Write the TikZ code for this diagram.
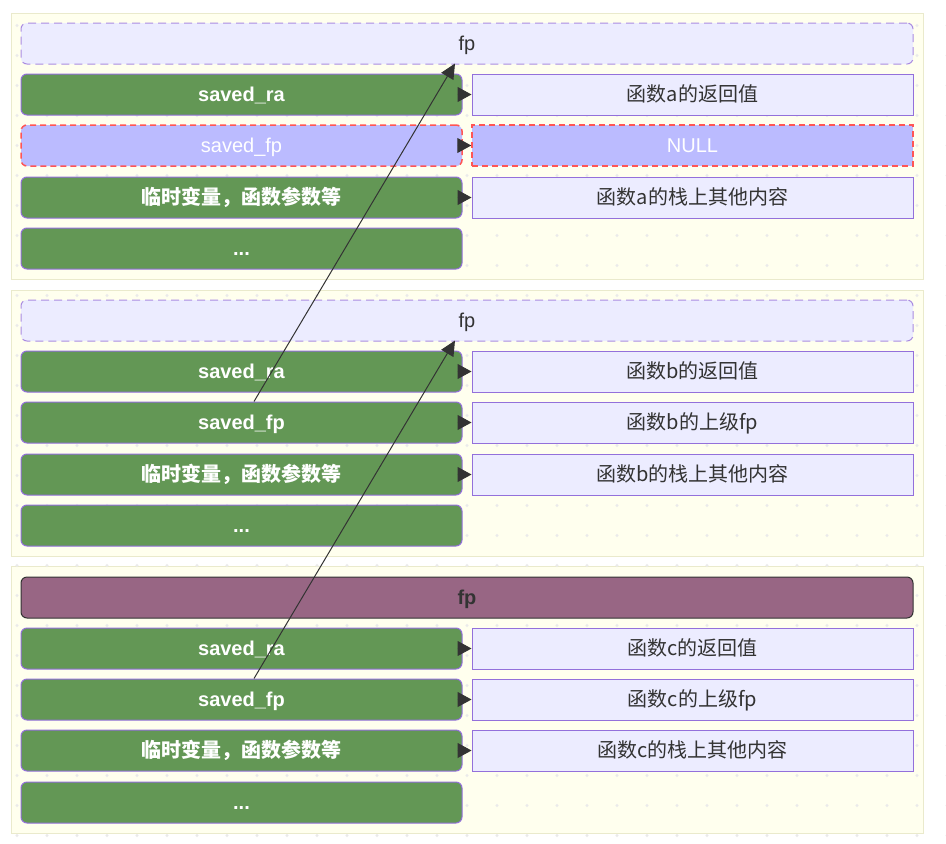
\documentclass[tikz,border=0pt]{standalone}
\usepackage{fontspec}
\setmainfont{Liberation Sans}
\newfontfamily\cjk{Noto Sans CJK SC}
\usetikzlibrary{arrows.meta,calc}
\definecolor{clfill}{RGB}{255,255,238}
\definecolor{cldraw}{RGB}{234,234,204}
\definecolor{lavfill}{RGB}{236,236,255}
\definecolor{lavdraw}{RGB}{147,112,219}
\definecolor{lavdash}{RGB}{170,140,225}
\definecolor{grn}{RGB}{99,151,85}
\definecolor{nullfill}{RGB}{187,187,255}
\definecolor{nulldraw}{RGB}{255,85,85}
\definecolor{plum}{RGB}{152,102,132}
\definecolor{ink}{RGB}{51,51,51}
\definecolor{dotc}{RGB}{234,234,234}
\tikzset{
  base/.style={font=\fontsize{20}{24}\selectfont, text=ink, inner sep=0pt, minimum height=41pt, text height=17pt, text depth=4pt, line width=1pt},
  cluster/.style={fill=clfill, draw=cldraw, line width=1pt},
  fpdash/.style={base, fill=lavfill, draw=lavdash, dashed, dash pattern=on 8pt off 5pt, rounded corners=6pt, minimum width=892pt},
  fpmain/.style={base, fill=plum, draw=ink, rounded corners=6pt, minimum width=892pt, font=\fontsize{20}{24}\selectfont\bfseries},
  grnbox/.style={base, fill=grn, draw=lavdraw, rounded corners=6pt, minimum width=441pt, text=white, font=\fontsize{20}{24}\selectfont\bfseries},
  nullleft/.style={base, fill=nullfill, draw=nulldraw, dashed, dash pattern=on 6pt off 4pt, line width=1.5pt, rounded corners=6pt, minimum width=441pt, text=white},
  valbox/.style={base, fill=lavfill, draw=lavdraw, minimum width=441pt, font=\fontsize{20}{24}\selectfont\cjk},
  nullright/.style={base, fill=nullfill, draw=nulldraw, dashed, dash pattern=on 6pt off 4pt, line width=1.5pt, minimum width=441pt, text=white},
  shortarrow/.style={draw=ink, line width=1pt, -{Triangle[length=14pt,width=15pt]}, fill=ink},
  longarrow/.style={draw=ink, line width=1pt, -{Triangle[length=15pt,width=14pt]}},
}
\begin{document}
\begin{tikzpicture}[x=1pt,y=-1pt]
\useasboundingbox (0,0) rectangle (946,844);
\fill[white] (0,0) rectangle (946,844);
% clusters
\draw[cluster] (11,13) rectangle (923,279);
\draw[cluster] (11,290) rectangle (923,556);
\draw[cluster] (11,566) rectangle (923,833);
% dot grid
\foreach \i in {0,...,31} {
  \foreach \j in {0,...,27} {
    \fill[dotc] (17+30*\i, 25.5+30*\j) circle (1.6pt);
  }
}
% cluster 1
\node[fpdash] (fp1) at (467,43.5) {fp};
\node[grnbox] (ra1) at (241.5,94.5) {saved\_ra};
\node[nullleft] (sfp1) at (241.5,145.5) {saved\_fp};
\node[grnbox, font=\fontsize{20}{24}\selectfont\cjk\bfseries] (tmp1) at (241.5,197.5) {临时变量，函数参数等};
\node[grnbox] (dot1) at (241.5,248.5) {...};
\node[valbox] (rv1) at (692.5,94.5) {函数a的返回值};
\node[nullright] (rfp1) at (692.5,145.5) {NULL};
\node[valbox] (rt1) at (692.5,197.5) {函数a的栈上其他内容};
% cluster 2
\node[fpdash] (fp2) at (467,320.5) {fp};
\node[grnbox] (ra2) at (241.5,371.5) {saved\_ra};
\node[grnbox] (sfp2) at (241.5,422.5) {saved\_fp};
\node[grnbox, font=\fontsize{20}{24}\selectfont\cjk\bfseries] (tmp2) at (241.5,474.5) {临时变量，函数参数等};
\node[grnbox] (dot2) at (241.5,525.5) {...};
\node[valbox] (rv2) at (692.5,371.5) {函数b的返回值};
\node[valbox] (rfp2) at (692.5,422.5) {函数b的上级fp};
\node[valbox] (rt2) at (692.5,474.5) {函数b的栈上其他内容};
% cluster 3
\node[fpmain] (fp3) at (467,597.5) {fp};
\node[grnbox] (ra3) at (241.5,648.5) {saved\_ra};
\node[grnbox] (sfp3) at (241.5,699.5) {saved\_fp};
\node[grnbox, font=\fontsize{20}{24}\selectfont\cjk\bfseries] (tmp3) at (241.5,750.5) {临时变量，函数参数等};
\node[grnbox] (dot3) at (241.5,802.5) {...};
\node[valbox] (rv3) at (692.5,648.5) {函数c的返回值};
\node[valbox] (rfp3) at (692.5,699.5) {函数c的上级fp};
\node[valbox] (rt3) at (692.5,750.5) {函数c的栈上其他内容};
% short arrows
\foreach \k in {1,2,3} {
  \draw[shortarrow] ($(ra\k.east)+(-5,0)$) -- (rv\k.west);
  \draw[shortarrow] ($(sfp\k.east)+(-5,0)$) -- (rfp\k.west);
  \draw[shortarrow] ($(tmp\k.east)+(-5,0)$) -- (rt\k.west);
}
% long arrows
\draw[longarrow] ($(sfp2.north)+(12.5,0)$) -- ($(fp1.south)+(-12,-1)$);
\draw[longarrow] ($(sfp3.north)+(12.5,0)$) -- ($(fp2.south)+(-12,-1)$);
\end{tikzpicture}
\end{document}
